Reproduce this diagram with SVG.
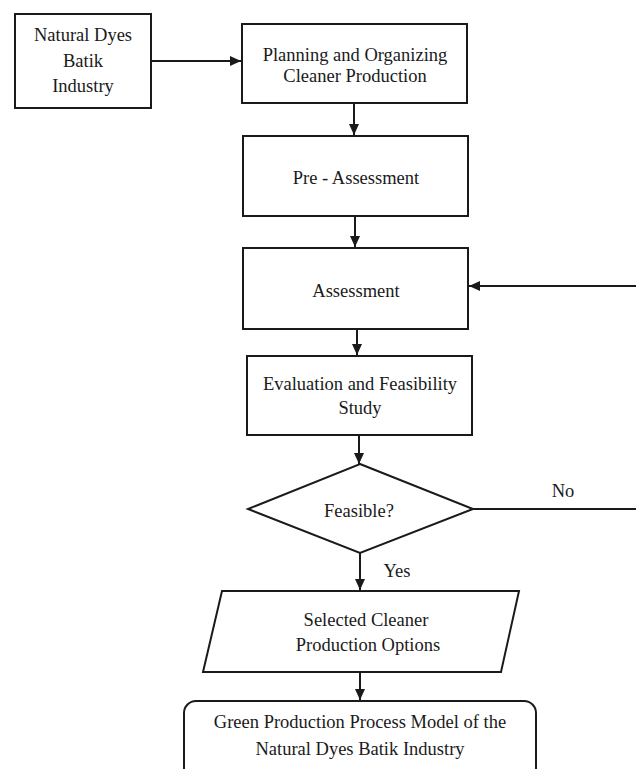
<svg xmlns="http://www.w3.org/2000/svg" width="636" height="769" viewBox="0 0 636 769">
<style>
.n{fill:#fff;stroke:#1a1a1a;stroke-width:2}
.t{font-family:"Liberation Serif","Times New Roman",serif;font-size:18.5px;fill:#1a1a1a;text-anchor:middle}
.c{fill:none;stroke:#1a1a1a;stroke-width:2}
</style>
<defs>
<marker id="ah" markerUnits="userSpaceOnUse" markerWidth="12" markerHeight="12" refX="11" refY="6" orient="auto">
<path d="M0,1 L11,6 L0,11 z" fill="#1a1a1a"/>
</marker>
</defs>
<rect width="636" height="769" fill="#fff"/>
<g id="connectors">
<line class="c" x1="151" y1="61" x2="241" y2="61" marker-end="url(#ah)"/>
<line class="c" x1="354" y1="103" x2="354" y2="135" marker-end="url(#ah)"/>
<line class="c" x1="355" y1="216" x2="355" y2="247" marker-end="url(#ah)"/>
<line class="c" x1="636" y1="286" x2="469" y2="286" marker-end="url(#ah)"/>
<line class="c" x1="357" y1="329" x2="357" y2="355" marker-end="url(#ah)"/>
<line class="c" x1="359" y1="435" x2="359" y2="464" marker-end="url(#ah)"/>
<line class="c" x1="473" y1="509" x2="636" y2="509"/>
<text class="t" x="563" y="497">No</text>
<line class="c" x1="360" y1="553" x2="360" y2="590" marker-end="url(#ah)"/>
<text class="t" x="397" y="577">Yes</text>
<line class="c" x1="360" y1="672" x2="360" y2="700" marker-end="url(#ah)"/>
</g>
<g id="n1">
<rect class="n" x="15" y="14" width="136" height="94"/>
<text class="t" x="83" y="41">Natural Dyes</text>
<text class="t" x="83" y="67">Batik</text>
<text class="t" x="83" y="92">Industry</text>
</g>
<g id="n2">
<rect class="n" x="242" y="24" width="225" height="79"/>
<text class="t" x="355" y="61">Planning and Organizing</text>
<text class="t" x="355" y="82">Cleaner Production</text>
</g>
<g id="n3">
<rect class="n" x="243" y="136" width="225" height="80"/>
<text class="t" x="356" y="184">Pre - Assessment</text>
</g>
<g id="n4">
<rect class="n" x="243" y="248" width="225" height="81"/>
<text class="t" x="356" y="297">Assessment</text>
</g>
<g id="n5">
<rect class="n" x="247" y="356" width="225" height="79"/>
<text class="t" x="360" y="390">Evaluation and Feasibility</text>
<text class="t" x="360" y="414">Study</text>
</g>
<g id="n6">
<polygon class="n" points="360,464 473,509 360,553 248,509"/>
<text class="t" x="359" y="517">Feasible?</text>
</g>
<g id="n7">
<polygon class="n" points="222,591 519,591 501,672 203,672"/>
<text class="t" x="366" y="626">Selected Cleaner</text>
<text class="t" x="368" y="651">Production Options</text>
</g>
<g id="n8">
<rect class="n" x="184" y="701" width="352" height="80" rx="12" ry="12"/>
<text class="t" x="360" y="728">Green Production Process Model of the</text>
<text class="t" x="360" y="755">Natural Dyes Batik Industry</text>
</g>
</svg>
